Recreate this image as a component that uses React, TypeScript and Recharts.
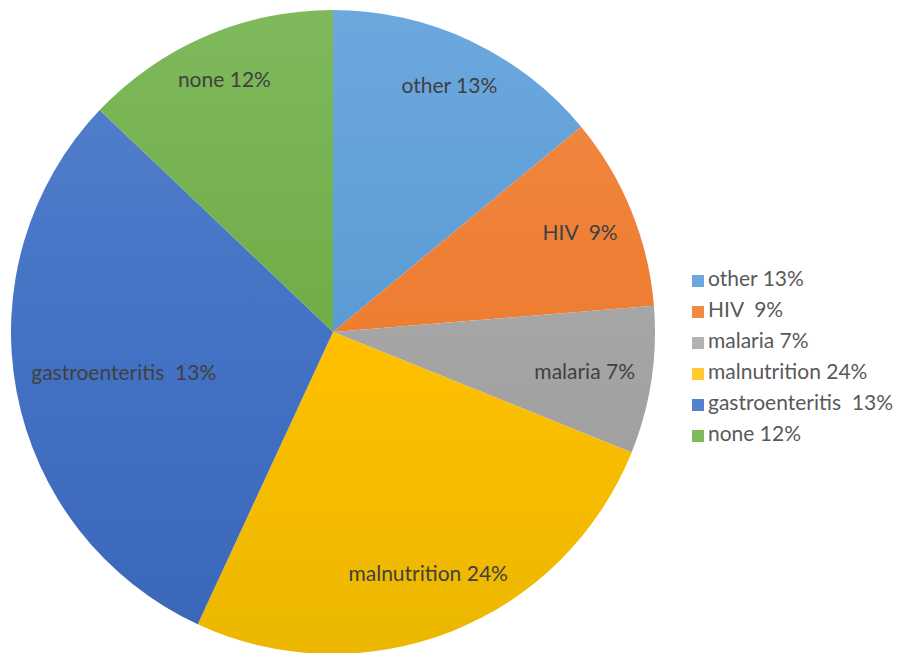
import React from 'react';
import { PieChart, Pie, Cell, Legend } from 'recharts';

// slice shares (angles), labels as printed
const causes = ['other', 'HIV', 'malaria', 'malnutrition', 'gastroenteritis', 'none'];
const shares = [14.0, 9.7, 7.4, 25.8, 30.2, 12.9];
const labels = ['other 13%', 'HIV  9%', 'malaria 7%', 'malnutrition 24%', 'gastroenteritis  13%', 'none 12%'];
const colors = ['#5B9BD5', '#ED7D31', '#A5A5A5', '#FFC000', '#4472C4', '#70AD47'];
const lightColors = ['#6CA8DE', '#F28A45', '#B2B2B2', '#FFC92E', '#5582CE', '#7EB95C'];
const darkColors = ['#4F8FCB', '#E0701F', '#999999', '#EBB700', '#3A66B8', '#62A03B'];

const data = causes.map((name, i) => ({ name, value: shares[i], label: labels[i] }));

const RADIAN = Math.PI / 180;
const FONT = 'Lato, "Open Sans", sans-serif';
const LABEL_SIZE = 21;
const CX = 333;
const CY = 332;
const R = 322;

let ctx: CanvasRenderingContext2D | null = null;
const textWidth = (s: string) => {
  if (!ctx) ctx = document.createElement('canvas').getContext('2d');
  if (!ctx) return s.length * LABEL_SIZE * 0.5;
  ctx.font = `${LABEL_SIZE}px Lato`;
  return ctx.measureText(s).width;
};

// best fit inside the slice: push label out until its box corner nears the rim
const renderLabel = (props: any) => {
  const { cx, cy, midAngle, outerRadius, index } = props;
  const ux = Math.cos(-midAngle * RADIAN);
  const uy = Math.sin(-midAngle * RADIAN);
  const hw = textWidth(labels[index]) / 2;
  const hh = LABEL_SIZE / 2;
  const t = outerRadius * 0.95;
  const b = Math.abs(ux) * hw + Math.abs(uy) * hh;
  const c = hw * hw + hh * hh - t * t;
  const r = -b + Math.sqrt(b * b - c);
  const x = cx + r * ux;
  const y = cy + r * uy;
  return (
    <text
      x={x}
      y={y}
      fill="#404040"
      textAnchor="middle"
      dominantBaseline="central"
      fontSize={LABEL_SIZE}
      fontFamily={FONT}
      style={{ whiteSpace: 'pre' }}
    >
      {labels[index]}
    </text>
  );
};

export default function App() {
  return (
    <div style={{ position: 'absolute', left: 0, top: 0, width: 907, height: 653, background: '#fff' }}>
      <PieChart width={907} height={653} margin={{ top: 0, right: 0, bottom: 0, left: 0 }}>
        <defs>
          {colors.map((c, i) => (
            <linearGradient
              key={`g-${i}`}
              id={`grad-${i}`}
              gradientUnits="userSpaceOnUse"
              x1={0}
              y1={CY - R}
              x2={0}
              y2={CY + R}
            >
              <stop offset="0%" stopColor={lightColors[i]} />
              <stop offset="50%" stopColor={c} />
              <stop offset="100%" stopColor={darkColors[i]} />
            </linearGradient>
          ))}
        </defs>
        <Pie
          data={data}
          dataKey="value"
          nameKey="label"
          cx={CX}
          cy={CY}
          outerRadius={R}
          startAngle={90}
          endAngle={-270}
          stroke="none"
          label={renderLabel}
          labelLine={false}
          isAnimationActive={false}
        >
          {data.map((entry, i) => (
            <Cell key={`cell-${entry.name}`} fill={`url(#grad-${i})`} />
          ))}
        </Pie>
        <Legend
          layout="vertical"
          align="right"
          verticalAlign="middle"
          iconType="square"
          iconSize={12}
          itemSorter={(item: any) => labels.indexOf(item.value)}
          payload={data.map((d, i) => ({ value: d.label, type: 'square' as const, color: colors[i], id: d.name }))}
          formatter={(value: string) => (
            <span style={{ color: '#595959', whiteSpace: 'pre' }}>{value}</span>
          )}
          wrapperStyle={{
            left: 692,
            top: 262,
            right: 'auto',
            width: 'auto',
            fontFamily: FONT,
            fontSize: 21,
            lineHeight: '31px',
          }}
        />
      </PieChart>
    </div>
  );
}
